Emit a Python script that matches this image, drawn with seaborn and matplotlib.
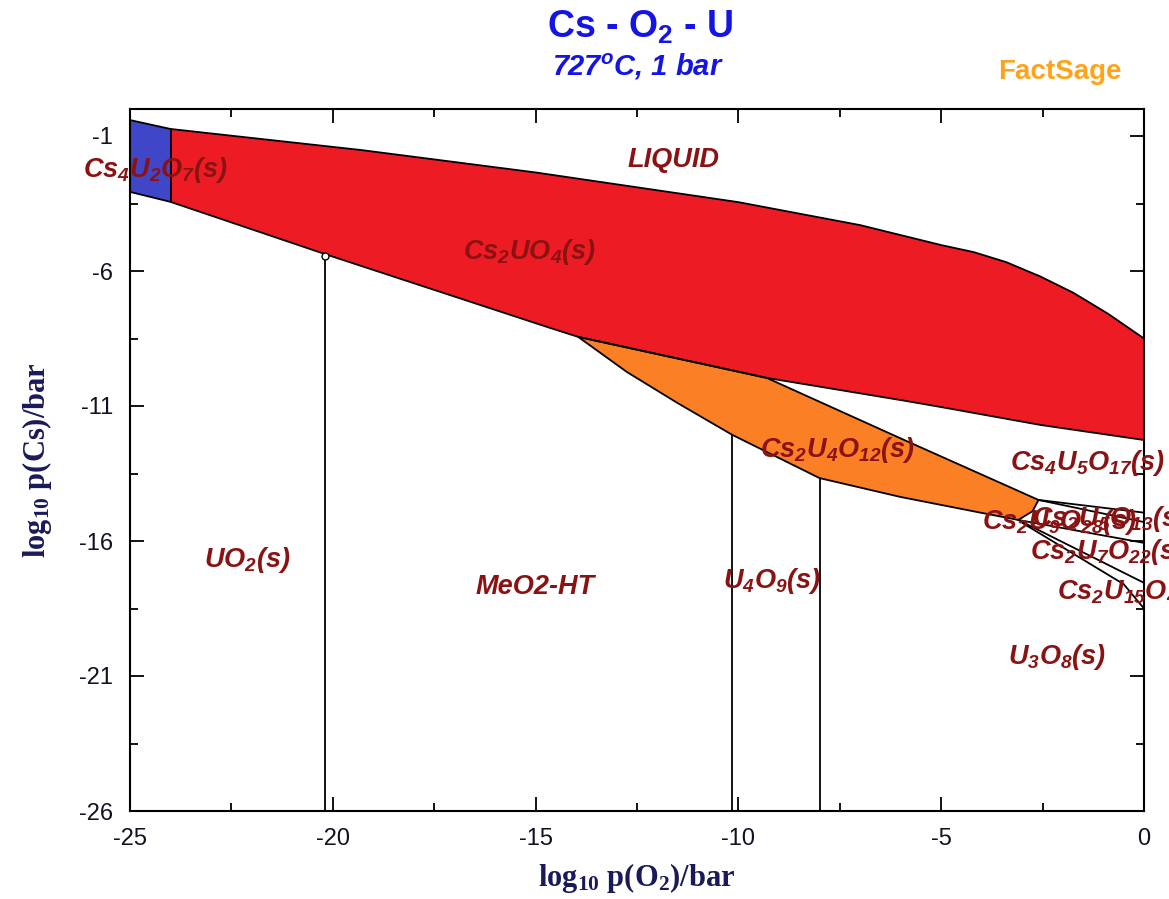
import matplotlib
matplotlib.use("Agg")
import matplotlib.pyplot as plt
import seaborn as sns
import pandas as pd

# ---- data (log10 pO2, log10 pCs) ----
blue_top_x = [-25.0, -24.0]
blue_top_y = [-0.41, -0.74]
blue_bot_x = [-25.0, -24.0]
blue_bot_y = [-3.07, -3.44]

liq_x = [-24.0, -19.3, -15.0, -10.0, -7.0, -5.0, -4.2, -3.4, -2.56, -1.75, -0.9, 0.0]
liq_y = [-0.74, -1.52, -2.35, -3.45, -4.3, -5.04, -5.3, -5.67, -6.2, -6.8, -7.57, -8.5]

red_bot_x = [-24.0, -20.2, -14.64, -13.95, -9.3, -6.0, -5.0, -2.56, 0.0]
red_bot_y = [-3.44, -5.37, -8.11, -8.44, -9.96, -10.78, -11.04, -11.7, -12.26]

or_top_x = [-13.95, -9.3, -6.0, -2.6]
or_top_y = [-8.44, -9.96, -12.2, -14.48]
or_bot_x = [-13.95, -12.75, -11.5, -10.15, -8.0, -6.0, -4.1, -3.1, -2.75, -2.6]
or_bot_y = [-8.44, -9.74, -10.89, -12.07, -13.67, -14.37, -14.93, -15.22, -14.9, -14.48]

vert_x = [-20.2, -10.15, -8.0]
vert_top = [-5.37, -12.07, -13.67]

right_lines = [
    ([-2.6, 0.0], [-14.48, -14.95]),
    ([-2.6, 0.0], [-14.48, -15.3]),
    ([-3.1, 0.0], [-15.22, -16.07]),
    ([-3.1, 0.0], [-15.22, -17.55]),
    ([-3.0, -0.5, 0.0], [-15.33, -17.6, -18.5]),
]

labels = [
    (r"Cs$_4$U$_2$O$_7$(s)", -26.15, -2.26, "left"),
    ("LIQUID", -11.6, -1.9, "center"),
    (r"Cs$_2$UO$_4$(s)", -15.14, -5.3, "center"),
    (r"Cs$_2$U$_4$O$_{12}$(s)", -7.55, -12.63, "center"),
    (r"Cs$_4$U$_5$O$_{17}$(s)", -3.3, -13.1, "left"),
    (r"Cs$_2$U$_9$O$_{28}$(s)", -4.0, -15.3, "left"),
    (r"Cs$_2$U$_5$O$_{13}$(s)", -2.75, -15.2, "left"),
    (r"Cs$_2$U$_7$O$_{22}$(s)", -2.8, -16.4, "left"),
    (r"Cs$_2$U$_{15}$O$_{46}$(s)", -2.15, -17.9, "left"),
    (r"UO$_2$(s)", -22.1, -16.7, "center"),
    ("MeO2-HT", -15.0, -17.7, "center"),
    (r"U$_4$O$_9$(s)", -9.17, -17.5, "center"),
    (r"U$_3$O$_8$(s)", -2.15, -20.3, "center"),
]

xticks = [-25, -20, -15, -10, -5, 0]
yticks = [-1, -6, -11, -16, -21, -26]

# ---- style ----
sns.set_theme(style="ticks")
plt.rcParams["font.family"] = ["Liberation Sans", "DejaVu Sans"]
plt.rcParams["mathtext.default"] = "regular"
plt.rcParams["axes.unicode_minus"] = False

fig = plt.figure(figsize=(11.69, 8.99), dpi=100)
ax = fig.add_axes([130/1169, 1-811/899, 1014/1169, 702/899])

def poly(xs_top, ys_top, xs_bot, ys_bot):
    return list(xs_top) + list(xs_bot)[::-1], list(ys_top) + list(ys_bot)[::-1]

px, py = poly(blue_top_x, blue_top_y, blue_bot_x, blue_bot_y)
ax.fill(px, py, color="#3f46c8", lw=0, zorder=1)
px, py = poly(liq_x, liq_y, red_bot_x, red_bot_y)
ax.fill(px, py, color="#ed1c24", lw=0, zorder=1)
px, py = poly(or_top_x, or_top_y, or_bot_x, or_bot_y)
ax.fill(px, py, color="#fb7f24", lw=0, zorder=1)

lk = dict(color="black", lw=1.3, estimator=None, sort=False, legend=False, zorder=3, ax=ax)
def line(xs, ys):
    sns.lineplot(data=pd.DataFrame({"x": xs, "y": ys}), x="x", y="y", **lk)

line(blue_top_x + liq_x, blue_top_y + liq_y)
line([-25.0, -24.0] + red_bot_x[1:], [-3.07, -3.44] + red_bot_y[1:])
line([-24.0, -24.0], [-0.74, -3.44])
line(or_top_x, or_top_y)
line(or_bot_x, or_bot_y)
line([0.0, 0.0], [-8.5, -12.26])
for xs, ys in right_lines:
    line(xs, ys)
for vx, vt in zip(vert_x, vert_top):
    line([vx, vx], [vt, -26])
ax.plot([-20.2], [-5.45], marker="o", ms=5, mfc="white", mec="black", zorder=4)

lab_color = "#8b1212"
for txt, x, y, ha in labels:
    ax.text(x, y, txt, ha=ha, va="center", fontsize=19.5, fontstyle="italic",
            fontweight="bold", color=lab_color, zorder=5, clip_on=False)

ax.set_xlim(-25, 0)
ax.set_ylim(-26, 0)
ax.set_xticks(xticks)
ax.set_yticks(yticks)
ax.set_xticks([-22.5, -17.5, -12.5, -7.5, -2.5], minor=True)
ax.set_yticks([-3.5, -8.5, -13.5, -18.5, -23.5], minor=True)
ax.tick_params(which="both", direction="in", top=True, right=True, color="black")
ax.tick_params(which="major", length=10, width=1.3, labelsize=17, pad=12,
               labelcolor="#111122")
ax.tick_params(which="minor", length=6, width=1.3)
for s in ax.spines.values():
    s.set_color("black")
    s.set_linewidth(1.5)
ax.set_xlabel(r"log$_{10}$ p(O$_2$)/bar", family="Liberation Serif", fontweight="bold",
              fontsize=22, color="#1a1a5a", labelpad=8)
ax.set_ylabel(r"log$_{10}$ p(Cs)/bar", family="Liberation Serif", fontweight="bold",
              fontsize=22, color="#1a1a5a", labelpad=18)

fig.text(640/1169, 1-27/899, r"Cs - O$_2$ - U", ha="center", va="center", fontsize=27,
         fontweight="bold", color="#1414e6")
fig.text(638/1169, 1-67/899, r"727$^o$C, 1 bar", ha="center", va="center", fontsize=21,
         fontweight="bold", fontstyle="italic", color="#1414e6")
fig.text(1060/1169, 1-72/899, "FactSage", ha="center", va="center", fontsize=20,
         fontweight="bold", color="#ffa41a")

fig.savefig("out.png", dpi=100)
